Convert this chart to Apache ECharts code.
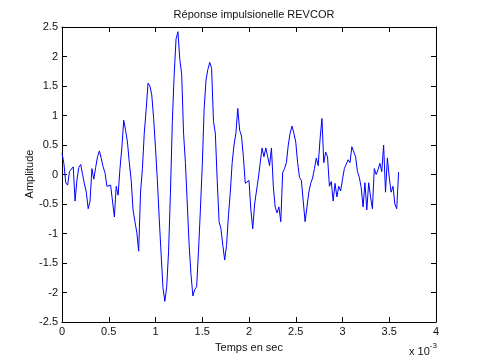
<!DOCTYPE html>
<html>
<head>
<meta charset="utf-8">
<script src="https://cdn.jsdelivr.net/npm/echarts@6/dist/echarts.min.js"></script>
<style>
html,body{margin:0;padding:0;background:#fff;}
#c{width:482px;height:362px;}
</style>
</head>
<body>
<div id="c"></div>
<script>
// Time step between samples (ms, axis shown with x 10^-3)
const sampleStepMs = 0.02;
// Amplitude samples, one every 0.02 ms from 0 to 3.6 ms
const amplitude = [
  0.36, 0.19, -0.14, -0.18, 0.05, 0.02, 0.13, -0.45, -0.09, 0.12,
  0.17, 0.0, -0.16, -0.3, -0.58, -0.45, 0.1, -0.08, 0.12, 0.3,
  0.4, 0.27, 0.13, 0.03, -0.2, -0.2, -0.18, -0.45, -0.72, -0.2,
  -0.35, 0.1, 0.45, 0.92, 0.75, 0.55, 0.2, -0.1, -0.6, -0.8,
  -0.98, -1.3, -0.3, 0.1, 0.7, 1.1, 1.55, 1.5, 1.35, 0.95,
  0.45, -0.1, -0.75, -1.35, -1.92, -2.15, -1.9, -1.3, -0.3, 0.9,
  1.7, 2.3, 2.42, 1.95, 1.7, 0.7, 0.2, -0.5, -1.2, -1.7,
  -2.06, -1.95, -1.9, -1.3, -0.6, 0.15, 1.1, 1.6, 1.78, 1.9,
  1.8, 0.9, 0.7, -0.1, -0.8, -0.92, -1.2, -1.45, -1.2, -0.7,
  -0.3, 0.2, 0.5, 0.7, 1.12, 0.75, 0.65, 0.3, -0.15, -0.15,
  -0.1, -0.6, -0.92, -0.5, -0.28, -0.06, 0.2, 0.45, 0.3, 0.45,
  0.3, 0.15, 0.45, -0.2, -0.55, -0.65, -0.55, -0.8, 0.03, 0.1,
  0.2, 0.5, 0.7, 0.82, 0.7, 0.55, 0.2, -0.05, -0.1, -0.45,
  -0.8, -0.55, -0.3, -0.15, -0.06, 0.1, 0.28, 0.15, 0.6, 0.95,
  0.2, 0.38, 0.3, -0.2, -0.12, -0.45, -0.15, -0.38, -0.2, -0.28,
  -0.08, 0.1, 0.08, 0.25, 0.2, 0.47, 0.5, 0.3, 0.05, -0.05,
  -0.22, -0.55, -0.14, -0.6, -0.14, -0.38, -0.58, 0.1, 0.0, 0.08,
  0.19, 0.05, 0.5, -0.3, 0.28, -0.05, -0.3, -0.2, -0.5, -0.58,
  0.04
];
const xTicks = [0, 0.5, 1, 1.5, 2, 2.5, 3, 3.5, 4];
const yTicks = [-2.5, -2, -1.5, -1, -0.5, 0, 0.5, 1, 1.5, 2, 2.5];
const titleText = 'Réponse impulsionelle REVCOR';
const xLabel = 'Temps en sec';
const yLabel = 'Amplitude';

const points = amplitude.map((v, i) => [+(i * sampleStepMs).toFixed(4), v]);

const FONT = 'Liberation Sans, Arial, sans-serif';
const TXT = '#111';

const chart = echarts.init(document.getElementById('c'), null, {renderer: 'canvas'});
const axisCommon = {
  type: 'value',
  axisLine: {show: true, onZero: false, lineStyle: {color: '#000', width: 1}},
  axisTick: {show: true, inside: true, length: 5, lineStyle: {color: '#000', width: 1}},
  splitLine: {show: false}
};
chart.setOption({
  backgroundColor: '#fff',
  animation: false,
  title: {
    text: titleText, left: 249, top: 4, textAlign: 'center',
    textStyle: {fontFamily: FONT, fontSize: 11, fontWeight: 'normal', color: TXT}
  },
  grid: {left: 62, right: 46, top: 27, bottom: 40, containLabel: false},
  xAxis: [
    Object.assign({}, axisCommon, {
      position: 'bottom', min: xTicks[0], max: xTicks[xTicks.length - 1], interval: 0.5,
      axisLabel: {fontFamily: FONT, fontSize: 11, color: TXT, margin: 4},
      name: xLabel, nameLocation: 'middle', nameGap: 20,
      nameTextStyle: {fontFamily: FONT, fontSize: 11, color: TXT}
    }),
    Object.assign({}, axisCommon, {
      position: 'top', min: xTicks[0], max: xTicks[xTicks.length - 1], interval: 0.5,
      axisLabel: {show: false}
    })
  ],
  yAxis: [
    Object.assign({}, axisCommon, {
      position: 'left', min: yTicks[0], max: yTicks[yTicks.length - 1], interval: 0.5,
      axisLabel: {fontFamily: FONT, fontSize: 11, color: TXT, margin: 4}
    }),
    Object.assign({}, axisCommon, {
      position: 'right', min: yTicks[0], max: yTicks[yTicks.length - 1], interval: 0.5,
      axisLabel: {show: false}
    })
  ],
  graphic: [{
    type: 'text', x: 30, y: 174, rotation: Math.PI / 2,
    style: {
      text: yLabel, fontFamily: FONT, fontSize: 11, fill: TXT,
      align: 'center', verticalAlign: 'middle'
    }
  }, {
    type: 'text', left: 409, top: 342,
    style: {
      text: '{b|x 10}{s|-3}',
      rich: {
        b: {fontFamily: FONT, fontSize: 11, fill: TXT, padding: [6, 0, 0, 0]},
        s: {fontFamily: FONT, fontSize: 8, fill: TXT, padding: [0, 0, 6, 0]}
      }
    }
  }],
  series: [{
    type: 'line', xAxisIndex: 0, yAxisIndex: 0,
    data: points, showSymbol: false, symbol: 'none',
    lineStyle: {color: '#0000ff', width: 1}, clip: true
  }]
});
</script>
</body>
</html>
